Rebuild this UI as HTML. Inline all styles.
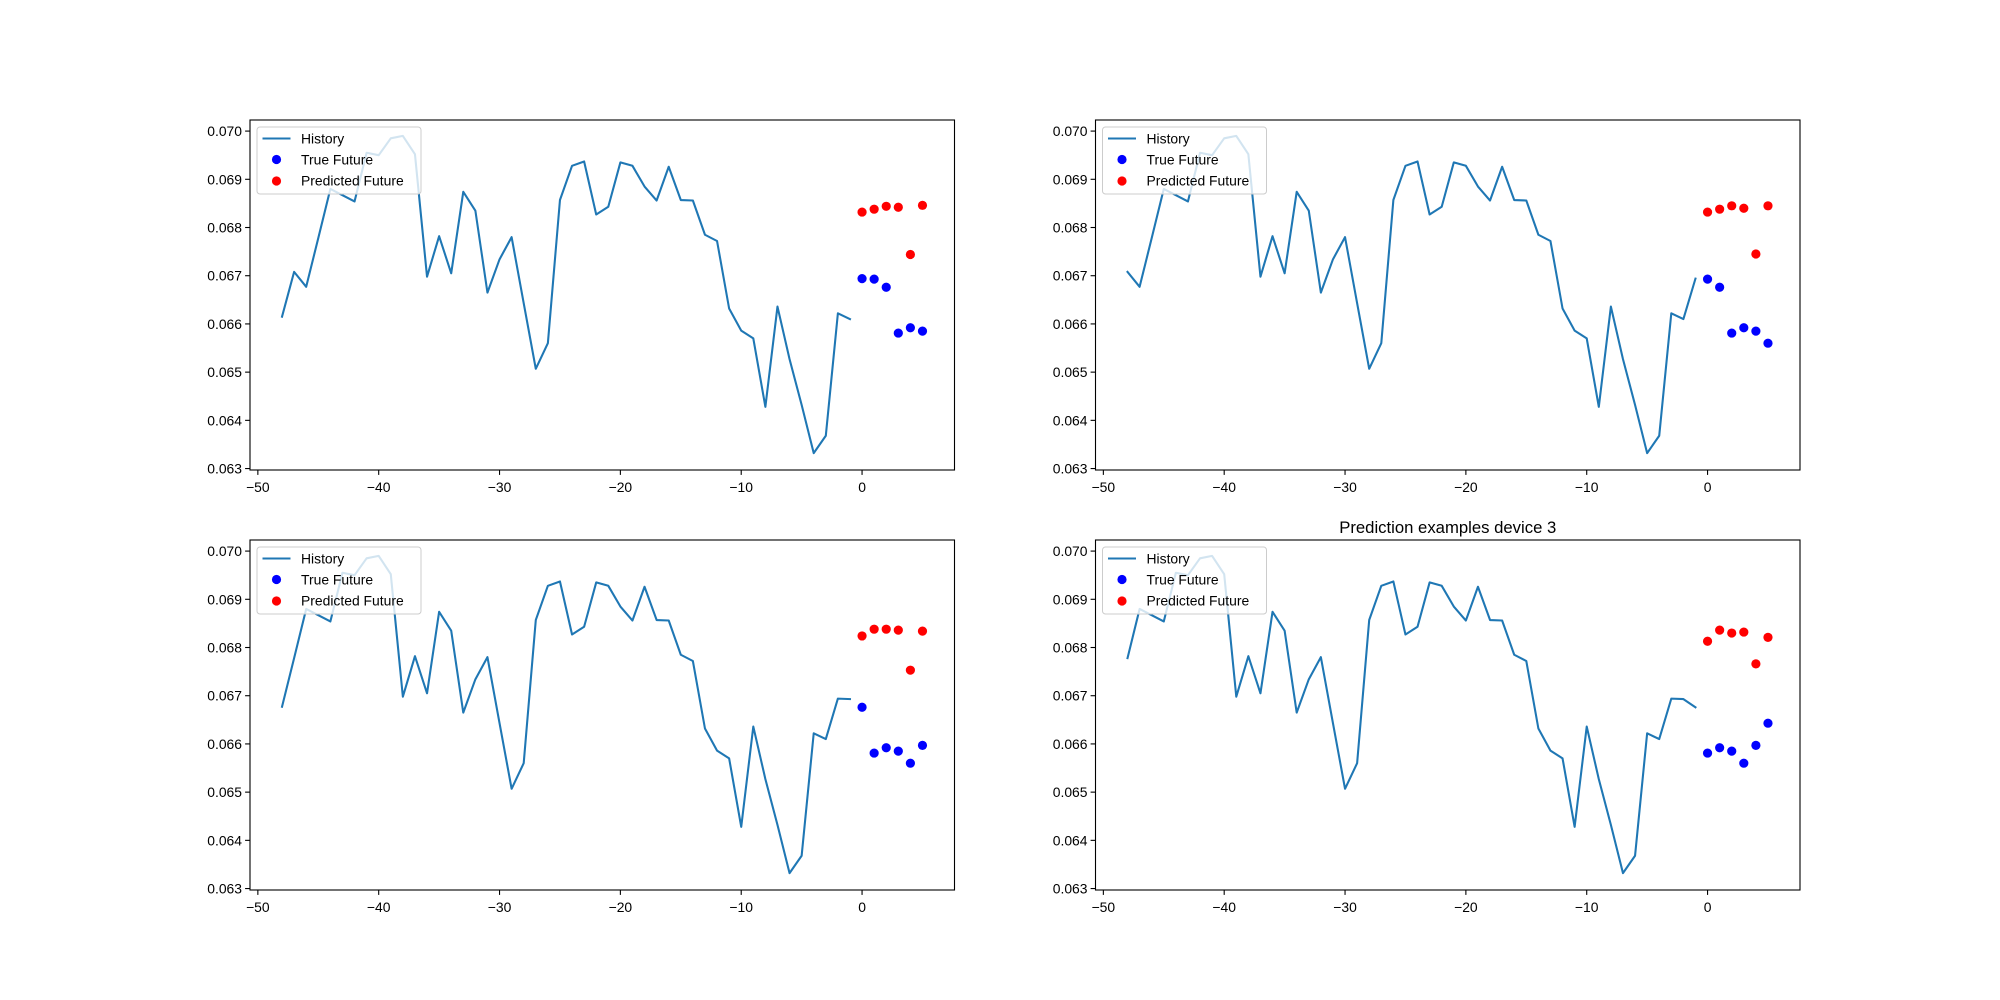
<!DOCTYPE html>
<html><head><meta charset="utf-8">
<style>
html,body{margin:0;padding:0;background:#fff;}
svg{display:block;font-family:"Liberation Sans","DejaVu Sans",sans-serif;}
</style></head>
<body>
<svg id="fig" width="2000" height="1000" viewBox="0 0 2000 1000" xmlns="http://www.w3.org/2000/svg"></svg>
<script>
// Shared series: history of plot 1 (x=-48..-1) followed by true future values
const historyBase = [0.06615,0.06708,0.06677,0.06778,0.06880,0.06867,0.06854,0.06955,0.06950,0.06985,0.06990,0.06952,
0.06698,0.06782,0.06705,0.06874,0.06835,0.06665,0.06734,0.06780,0.06643,0.06507,0.06560,0.06857,0.06928,0.06937,
0.06827,0.06843,0.06935,0.06928,0.06885,0.06856,0.06926,0.06857,0.06856,0.06785,0.06772,0.06632,0.06586,0.06570,
0.06428,0.06636,0.06527,0.06432,0.06332,0.06368,0.06622,0.06610];
const trueValues = [0.06694,0.06693,0.06676,0.06581,0.06592,0.06585,0.06560,0.06597,0.06643];
const pred0 = [0.06832,0.06838,0.06844,0.06842,0.06744,0.06846];
const pred1 = [0.06832,0.06838,0.06845,0.06840,0.06745,0.06845];
const pred2 = [0.06824,0.06838,0.06838,0.06836,0.06753,0.06834];
const pred3 = [0.06813,0.06836,0.06830,0.06832,0.06766,0.06821];
const shifts = [0,1,2,3];
const xTicks = [-50,-40,-30,-20,-10,0];
const yTicks = [0.063,0.064,0.065,0.066,0.067,0.068,0.069,0.070];
const titles = ["","","","Prediction examples device 3"];

const NS="http://www.w3.org/2000/svg";
const svg=document.getElementById('fig');
function mk(tag,attrs,parent){const e=document.createElementNS(NS,tag);for(const k in attrs)e.setAttribute(k,attrs[k]);(parent||svg).appendChild(e);return e;}
const preds=[pred0,pred1,pred2,pred3];
const W=704.5,H=350;
const lefts=[250,1095.5,250,1095.5], tops=[120,120,540,540];
const XMIN=-50.65,XMAX=7.65,YMIN=0.06297,YMAX=0.07023;

for(let p=0;p<4;p++){
  const L=lefts[p],T=tops[p];
  const sx=v=>L+(v-XMIN)/(XMAX-XMIN)*W;
  const sy=v=>T+H-(v-YMIN)/(YMAX-YMIN)*H;
  const g=mk('g',{});
  
  
  const s=shifts[p];
  const full=historyBase.concat(trueValues);
  const hist=full.slice(s,s+48);
  const tru=full.slice(48+s,54+s);
  // history line
  const pts=hist.map((v,i)=>sx(i-48).toFixed(2)+','+sy(v).toFixed(2)).join(' ');
  const line=mk('polyline',{points:pts,fill:'none',stroke:'#1f77b4','stroke-width':2.08,'stroke-linejoin':'round','stroke-linecap':'square'},g);
  
  
  tru.forEach((v,i)=>{
    const c=mk('circle',{cx:sx(i),cy:sy(v),r:4.6,fill:'#0000ff'},g);
    
    
  });
  preds[p].forEach((v,i)=>{
    const c=mk('circle',{cx:sx(i),cy:sy(v),r:4.6,fill:'#ff0000'},g);
    
    
  });
  // frame
  const fr=mk('rect',{x:L,y:T,width:W,height:H,fill:'none',stroke:'#000','stroke-width':1.1},g);
  
  
  // x ticks
  xTicks.forEach(v=>{
    const x=sx(v);
    mk('line',{x1:x,x2:x,y1:T+H,y2:T+H+4.9,stroke:'#000','stroke-width':1.1},g);
    const t=mk('text',{x:x,y:T+H+22,'font-size':13.9,'text-anchor':'middle',fill:'#000'},g);
    t.textContent=(v<0?'\u2212'+Math.abs(v):String(v));
    
    
  });
  yTicks.forEach(v=>{
    const y=sy(v);
    mk('line',{x1:L-4.9,x2:L,y1:y,y2:y,stroke:'#000','stroke-width':1.1},g);
    const t=mk('text',{x:L-8,y:y+5,'font-size':13.9,'text-anchor':'end',fill:'#000'},g);
    t.textContent=v.toFixed(3);
    
    
  });
  // legend
  const lg=mk('g',{},g);
  
  
  mk('rect',{x:L+7,y:T+7,width:164,height:67,rx:3,fill:'#fff','fill-opacity':0.8,stroke:'#cccccc','stroke-width':1},lg);
  mk('line',{x1:L+12.5,x2:L+40.5,y1:T+18.5,y2:T+18.5,stroke:'#1f77b4','stroke-width':2.08},lg);
  mk('circle',{cx:L+26.5,cy:T+39.5,r:4.6,fill:'#0000ff'},lg);
  mk('circle',{cx:L+26.5,cy:T+61,r:4.6,fill:'#ff0000'},lg);
  [['History',23.5],['True Future',44.5],['Predicted Future',65.5]].forEach(([s2,dy])=>{
    const t=mk('text',{x:L+51,y:T+dy,'font-size':13.9,fill:'#000'},lg);
    t.textContent=s2;
    
    
  });
  if(titles[p]){
    const t=mk('text',{x:L+W/2,y:T-7,'font-size':16.7,'text-anchor':'middle',fill:'#000'},g);
    t.textContent=titles[p];
    
    
  }
}
</script>
</body></html>
